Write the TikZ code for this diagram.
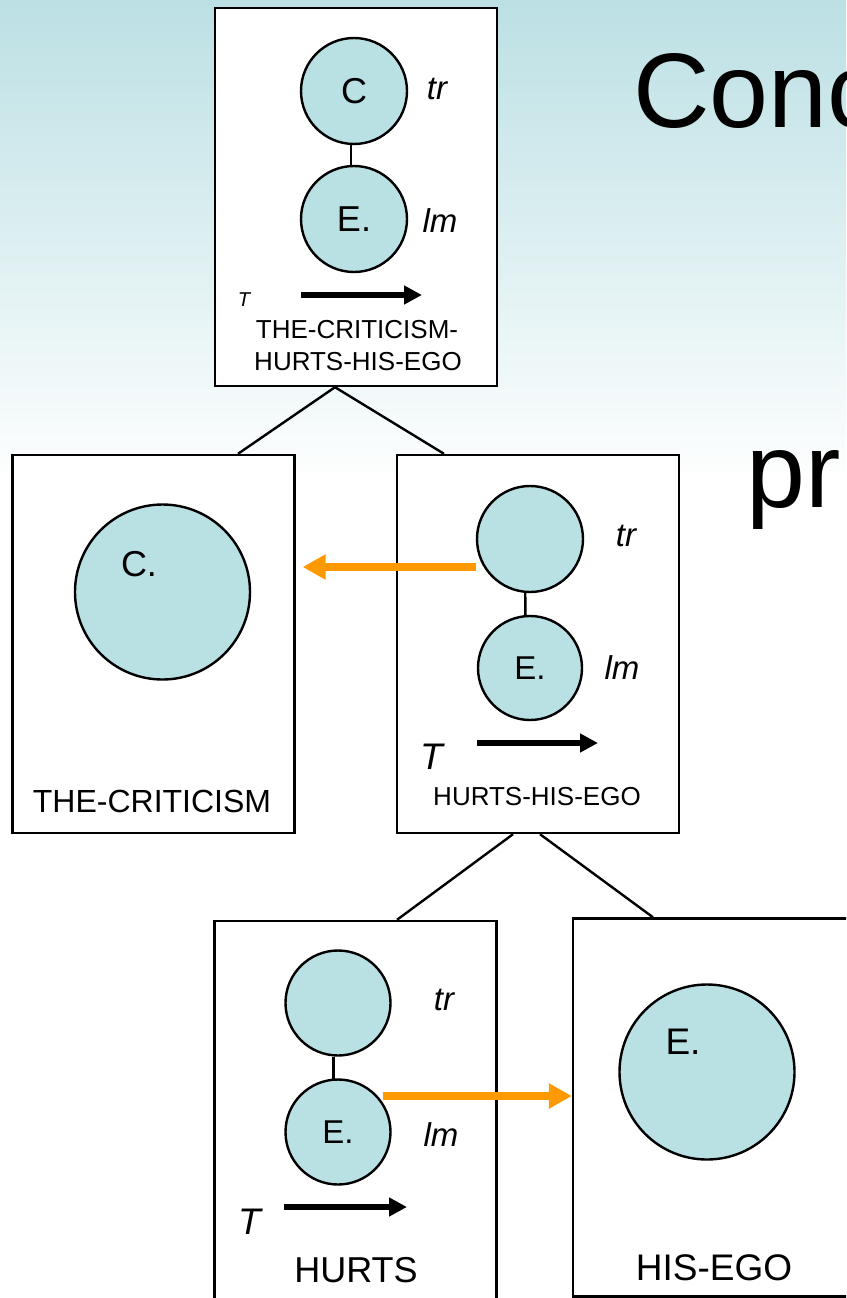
\documentclass[tikz,border=0pt]{standalone}
\usepackage{fontspec}
\setmainfont{Liberation Sans}
\usetikzlibrary{arrows.meta}
\definecolor{discblue}{RGB}{185,224,227}
\definecolor{bgtop}{RGB}{188,224,228}
\definecolor{arrorange}{RGB}{255,153,0}

\begin{document}
\begin{tikzpicture}[x=1pt,y=-1pt,
  frame/.style={draw,line width=2.4pt,fill=white,minimum width=282pt,minimum height=378pt,inner sep=0pt},
  disc/.style={circle,draw,line width=2.4pt,fill=discblue,inner sep=0pt,minimum size=#1,font=\fontsize{33}{33}\selectfont},
  word/.style={inner sep=0pt,font=\fontsize{#1}{#1}\selectfont},
  role/.style={inner sep=0pt,font=\fontsize{#1}{#1}\selectfont\itshape},
  edge/.style={line width=2.4pt},
  tarrow/.style={line width=6pt,-{Triangle[length=18pt,width=18pt]}},
  oarrow/.style={draw=arrorange,line width=8pt,-{Triangle[length=23pt,width=24pt]}}]
  \path[use as bounding box] (0,0) rectangle (846,1298);
  \clip (0,0) rectangle (846,1298);
  \fill[white] (0,0) rectangle (846,1298);
  \shade[top color=bgtop,bottom color=white!96!bgtop] (0,0) rectangle (846,470);

  \node[word=106,anchor=base west] (ttl) at (633,127) {Conc};
  \node[word=106,anchor=base west] (ttl2) at (746,507) {pr};

  \node[frame] (top) at (356,197) {};
  \node[frame] (crit) at (153.5,644) {};
  \node[frame] (hurtsego) at (538,644) {};
  \node[frame] (hurts) at (355.5,1110) {};
  \node[frame] (ego) at (714,1107.5) {};

  \draw[edge] ([xshift=-21pt]top.south) -- ([xshift=84.5pt]crit.north);
  \draw[edge] ([xshift=-21pt]top.south) -- ([xshift=-94pt]hurtsego.north);
  \draw[edge] ([xshift=-25pt]hurtsego.south) -- ([xshift=41.5pt]hurts.north);
  \draw[edge] ([xshift=2pt]hurtsego.south) -- ([xshift=-61pt]ego.north);

  \node[disc=106pt,font=\fontsize{36}{36}\selectfont] (topc) at (354,91) {C};
  \node[disc=106pt,font=\fontsize{36}{36}\selectfont] (tope) at (354,219) {E.};
  \draw[edge] (topc.267) -- (tope.93);
  \node[role=33] (toptr) at (437,89) {tr};
  \node[role=33] (toplm) at (440,221) {lm};
  \node[role=20] (topt) at (244,300) {T};
  \coordinate (topa) at (301,295);
  \coordinate (topb) at (422,295);
  \draw[tarrow] (topa) -- (topb);
  \node[word=26,anchor=base] (topcap) at (357,338) {THE-CRITICISM-};
  \node[word=26,anchor=base] (topcap2) at (358,370) {HURTS-HIS-EGO};

  \node[disc=175pt] (critc) at (162.5,592) {};
  \node[word=36] (critl) at (139,564) {C.};
  \node[word=32,anchor=base] (critcap) at (152,812) {THE-CRITICISM};

  \node[disc=106pt] (hetr) at (530,539) {};
  \node[disc=104pt] (hee) at (530,668) {E.};
  \draw[edge] (hetr.265) -- (hee.95);
  \node[role=33] (hetrl) at (626,536) {tr};
  \node[role=33] (helml) at (622,668) {lm};
  \node[role=37] (het) at (432,757) {T};
  \coordinate (hea) at (477,743);
  \coordinate (heb) at (598,743);
  \draw[tarrow] (hea) -- (heb);
  \node[word=26,anchor=base] (hecap) at (537,805) {HURTS-HIS-EGO};
  \draw[oarrow] ([yshift=-28pt]hetr.west) -- ([xshift=7pt,yshift=77pt]crit.east);

  \node[disc=105pt] (htr) at (338,1003) {};
  \node[disc=105pt] (hlm) at (338,1132) {E.};
  \draw[edge] (htr.265) -- (hlm.95);
  \node[role=33] (htrl) at (444,1000) {tr};
  \node[role=33] (hlml) at (441,1135) {lm};
  \node[role=37] (ht) at (250,1222) {T};
  \coordinate (ha) at (284,1207);
  \coordinate (hb) at (407,1207);
  \draw[tarrow] (ha) -- (hb);
  \node[word=36,anchor=base] (hcap) at (356,1282) {HURTS};

  \node[disc=175pt] (egoc) at (707,1072) {};
  \node[word=37] (egol) at (683,1042) {E.};
  \node[word=37,anchor=base] (egocap) at (714,1280) {HIS-EGO};
  \draw[oarrow] ([xshift=-9pt,yshift=36pt]hlm.east) -- ([yshift=11.5pt]ego.west);
\end{tikzpicture}
\end{document}
